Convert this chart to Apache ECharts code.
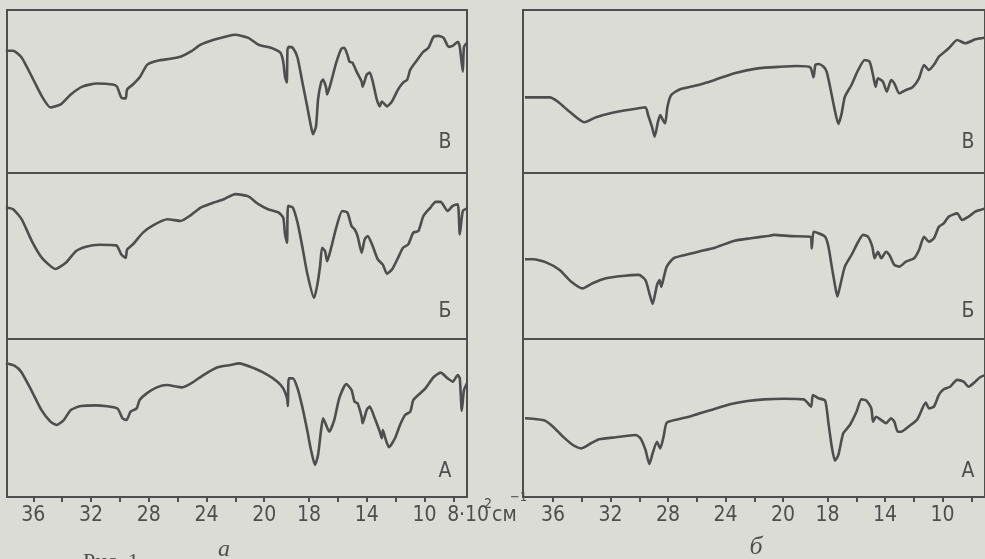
<!DOCTYPE html>
<html>
<head>
<meta charset="utf-8">
<title>ИК-спектры</title>
<script src="https://cdn.jsdelivr.net/npm/echarts@6/dist/echarts.min.js"></script>
<style>
html,body{margin:0;padding:0;background:#dcdcd6;}
#main{width:985px;height:559px;}
</style>
</head>
<body>
<div id="main"></div>
<script type="text/javascript">
// волновое число (10^2 см-1), пропускание (% высоты панели)
var specA_V = [[37.9,75],[37.4,75],[36.8,70.7],[36.1,59.1],[35.4,47],[34.8,40.2],[34.1,42.1],[33.4,48.2],[32.6,53],[31.6,54.9],[30.5,54.3],[30.2,53],[29.9,46.3],[29.6,45.7],[29.5,51.2],[29.1,54.3],[28.6,59.1],[28.1,66.5],[27.4,68.9],[26.5,70.1],[25.8,71.3],[25.1,74.4],[24.4,78.7],[23.5,81.7],[22.5,84.1],[22.0,84.8],[21.1,82.9],[20.4,78.7],[19.7,76.8],[19.28,73.8],[19.15,68.3],[19.07,59.1],[18.99,55.5],[18.96,75.6],[18.9,77.4],[18.72,76.8],[18.51,70.7],[18.3,56.1],[18.08,40.9],[17.86,28.7],[17.72,23.8],[17.51,28.7],[17.37,45.1],[17.16,55.5],[17.02,57.3],[16.81,52.4],[16.74,48.2],[16.46,56.1],[16.11,67.7],[15.76,76.2],[15.55,76.8],[15.34,72.6],[15.19,68.3],[14.98,67.7],[14.7,62.2],[14.35,56.1],[14.28,53],[14.0,60.4],[13.79,61.6],[13.58,56.1],[13.3,45.1],[13.09,40.9],[12.95,43.9],[12.6,40.9],[12.25,43.9],[11.83,51.2],[11.48,55.5],[11.19,57.3],[10.98,63.4],[10.49,69.5],[10.07,74.4],[9.72,76.8],[9.37,83.5],[9.02,84.1],[8.67,82.9],[8.32,77.4],[8.04,78],[7.69,80.5],[7.55,77.4],[7.34,62.2],[7.26,77.4],[7.05,79.9]];
var specA_B = [[37.9,79.2],[37.4,78.2],[36.8,72.1],[36.1,59],[35.4,48.9],[34.46,42.2],[33.75,45.9],[33.05,52.9],[32.35,55.6],[31.44,56.8],[30.25,56.4],[29.9,50.9],[29.6,48.9],[29.5,53.9],[29.1,57],[28.4,64.1],[27.7,68.5],[26.7,72.1],[25.8,71.1],[25.1,74.5],[24.4,79.2],[23.5,82.2],[22.8,84.2],[22.0,87.3],[21.1,85.9],[20.4,81.2],[19.83,78.2],[19.36,76.2],[19.15,73.1],[19.07,63],[18.98,58],[18.93,80.2],[18.72,79.2],[18.51,70.1],[18.3,55.9],[18.08,39.8],[17.65,24.7],[17.44,31.7],[17.23,43.8],[17.09,55],[16.88,52.9],[16.74,46.8],[16.46,55],[16.11,67.1],[15.69,77.1],[15.34,76.2],[15.05,68.1],[14.84,66.1],[14.63,62],[14.35,51.9],[14.14,60],[13.93,62],[13.58,55.9],[13.23,47.9],[12.88,44.8],[12.6,39.4],[12.25,41.8],[11.83,48.9],[11.48,55],[11.12,57],[10.77,64.1],[10.42,65],[10.07,74.1],[9.58,79.2],[9.23,82.6],[8.88,82.6],[8.39,77.1],[8.04,80.2],[7.69,81.2],[7.55,63],[7.34,77.1],[7.05,78.6]];
var specA_A = [[37.9,84.6],[37.26,82.9],[36.84,79.3],[36.14,67.7],[35.44,55.1],[34.81,47.7],[34.39,45.6],[33.89,48.7],[33.4,55.1],[32.7,57.6],[31.65,58],[30.18,56.1],[29.82,49.8],[29.54,48.7],[29.26,54],[28.84,56.1],[28.63,61.4],[28.14,65.6],[27.44,69.4],[26.74,70.9],[25.68,69.4],[24.98,72.4],[24.21,77.2],[23.23,82.1],[22.32,83.6],[21.75,84.6],[20.7,81.5],[19.83,77.2],[19.41,73],[19.15,68.8],[18.98,62.5],[18.94,57.6],[18.9,75.1],[18.72,75.1],[18.51,68.8],[18.3,57.2],[18.08,42.4],[17.86,29.8],[17.58,20.3],[17.37,26.6],[17.16,42.4],[17.02,49.8],[16.81,45.6],[16.6,41.3],[16.25,48.7],[15.9,62.5],[15.41,71.5],[15.05,67.7],[14.84,60.3],[14.63,59.3],[14.35,50.8],[14.28,46.7],[14.0,55.1],[13.79,57.2],[13.44,49.8],[13.09,41.3],[12.95,37.2],[12.88,42.4],[12.74,38.2],[12.46,31.5],[12.04,37.2],[11.69,45.6],[11.34,51.9],[10.98,54],[10.77,61.4],[10.42,64.6],[9.93,68.8],[9.37,75.8],[8.88,78.7],[8.39,75.1],[8.04,73],[7.69,77.2],[7.55,75.1],[7.41,54.6],[7.26,67.7],[7.05,72]];
var specB_V = [[37.95,46.4],[36.23,46.4],[35.66,43.7],[34.85,37.6],[33.82,31.1],[33.01,34.2],[31.87,37],[30.49,39.1],[29.57,40.3],[29.39,35.6],[29.12,28.4],[28.93,22.3],[28.7,31.5],[28.54,35.6],[28.36,32.5],[28.2,30.5],[28.04,40.7],[27.78,47.9],[27.16,51.4],[25.9,54],[24.75,57.1],[23.38,61.2],[21.77,64.2],[20.17,65.2],[19.37,65.6],[18.78,64.8],[18.63,58.7],[18.55,66.3],[18.41,66.9],[18.18,65.2],[18.04,62.1],[17.83,52.9],[17.55,40.7],[17.25,30.1],[17.02,36.6],[16.8,46.8],[16.34,54],[15.87,63.2],[15.42,69.3],[15.08,68.3],[14.84,60.1],[14.66,52.9],[14.5,58.1],[14.15,56],[13.88,49.9],[13.58,57.1],[13.36,55],[13.01,48.9],[12.55,50.9],[12.09,52.6],[11.64,58.1],[11.29,66.3],[10.95,63.2],[10.53,67.3],[10.26,71.4],[9.57,76.5],[8.99,81.6],[8.42,79.6],[7.73,82],[7.39,82.6],[7.1,83]];
var specB_B = [[37.95,48],[37.38,48],[36.45,46],[35.54,41.6],[34.73,34.5],[33.94,30.5],[33.25,33.6],[32.32,36.6],[31.18,38],[30.03,38.6],[29.57,35.5],[29.3,27.5],[29.07,21.1],[28.77,32.5],[28.59,35.5],[28.47,31.5],[28.31,36.6],[28.09,43.6],[27.62,48.6],[26.82,50.6],[25.9,52.6],[24.75,55],[23.38,59.2],[22.24,60.7],[21.09,62],[20.62,62.7],[19.66,62],[18.78,61.6],[18.71,54.6],[18.63,64.6],[18.41,63.7],[18.11,61.6],[17.94,55.6],[17.71,43.6],[17.49,32.5],[17.32,25.5],[17.14,31.5],[16.8,43.6],[16.34,50.6],[15.87,58.6],[15.53,62.7],[15.19,61.6],[14.89,55.6],[14.73,48.6],[14.5,52.6],[14.27,48.6],[13.93,52.6],[13.7,50.6],[13.36,44.6],[13.01,43.6],[12.55,46.6],[11.98,48.6],[11.64,53.6],[11.29,61.6],[10.95,58.6],[10.6,60.7],[10.26,67.6],[9.92,69.7],[9.57,73.7],[8.99,75.7],[8.65,71.7],[8.19,73.7],[7.73,76.7],[7.39,77.7],[7.1,78.5]];
var specB_A = [[37.95,49.8],[37.14,49.2],[36.57,48.3],[36.0,44.5],[35.31,38.2],[34.62,32.9],[34.05,30.8],[33.36,34],[32.79,36.5],[31.64,37.8],[30.26,39.2],[29.92,37.2],[29.57,29.8],[29.3,20.9],[29.07,27.7],[28.77,35],[28.54,30.8],[28.31,38.2],[28.09,47],[27.28,49.2],[26.36,51.3],[24.99,55.1],[23.61,58.9],[22.46,60.8],[21.31,61.8],[19.96,62.2],[19.07,61.8],[18.74,57.2],[18.66,64.6],[18.41,62.5],[18.11,61],[17.94,46.7],[17.71,31.8],[17.49,23],[17.25,26.6],[16.91,40.3],[16.45,45.6],[15.99,54],[15.65,61.8],[15.3,61],[14.96,56.1],[14.84,47.7],[14.62,50.8],[14.27,48.7],[13.93,46.7],[13.59,49.8],[13.36,47.7],[13.12,41.3],[12.89,41.3],[12.32,44.9],[11.75,49.2],[11.17,59.7],[10.95,56.1],[10.6,57.2],[10.26,64.6],[9.92,68.2],[9.48,69.8],[8.99,74.1],[8.54,73],[8.19,69.8],[7.73,73],[7.39,75.8],[7.1,77]];

var tickWaves = [36,34,32,30,28,26,24,22,20,18,16,14,12,10,8];
var labelsLeft = [36,32,28,24,20,18,14,10,8];
var labelsRight = [36,32,28,24,20,18,14,10];
var panelNames = ['В','Б','А'];

// шкала прибора: участок 2000-1800 растянут
function toU(w) {
	if (w >= 20) return w;
	if (w >= 18) return 20 - (20 - w) * 1.55;
	return w - 1.1;
}
function fromU(u) {
	if (u >= 20) return u;
	if (u >= 16.9) return 20 - (20 - u) / 1.55;
	return u + 1.1;
}
function conv(arr) {
	return arr.map(function (p) { return [toU(p[0]), p[1]]; });
}

var inkColor = '#4e4e4e';
var narrow = "'Liberation Sans Narrow','DejaVu Sans Condensed',sans-serif";

var rows = [{top:10,height:163},{top:173,height:166},{top:339,height:158}];
var cols = [{left:7,width:460,max:37.82,labels:labelsLeft},{left:523,width:467,max:38.09,labels:labelsRight}];
var specs = [[specA_V,specA_B,specA_A],[specB_V,specB_B,specB_A]];

var grids = [], xAxes = [], yAxes = [], series = [];
cols.forEach(function (c, ci) {
	rows.forEach(function (r, ri) {
		var idx = grids.length;
		var bottom = (ri == 2);
		grids.push({left:c.left, width:c.width, top:r.top, height:r.height, show:true,
			borderColor:inkColor, borderWidth:2, backgroundColor:'transparent'});
		xAxes.push({type:'value', gridIndex:idx, inverse:true, min:5.95, max:c.max,
			show:bottom, splitLine:{show:false},
			axisLine:{show:true, lineStyle:{color:inkColor, width:2}},
			axisTick:{show:true, inside:false, length:5, lineStyle:{color:inkColor, width:2},
				customValues:tickWaves.map(toU)},
			axisLabel:{show:true, margin:8, color:inkColor, fontSize:21, fontFamily:narrow,
				customValues:c.labels.map(toU),
				formatter:function (v) { return String(Math.round(fromU(v))); }}
		});
		yAxes.push({type:'value', gridIndex:idx, min:0, max:100, show:false});
		series.push({type:'line', xAxisIndex:idx, yAxisIndex:idx, data:conv(specs[ci][ri]),
			showSymbol:false, smooth:0.2, silent:true,
			lineStyle:{color:inkColor, width:2.6}});
	});
});

var graphics = [];
var letterX = [445, 968];
var letterY = [143, 312, 472];
letterX.forEach(function (x) {
	letterY.forEach(function (y, i) {
		graphics.push({type:'text', x:x, y:y, style:{text:panelNames[i], fill:inkColor,
			font:'21px ' + narrow, textAlign:'center', textVerticalAlign:'middle'}});
	});
});
// единицы после метки 8
graphics.push({type:'text', x:459, y:516, style:{text:'·10', fill:inkColor, font:'21px ' + narrow, textAlign:'left', textVerticalAlign:'middle'}});
graphics.push({type:'text', x:484, y:504, style:{text:'2', fill:inkColor, font:'14px ' + narrow, textAlign:'left', textVerticalAlign:'middle'}});
graphics.push({type:'text', x:492, y:516, style:{text:'см', fill:inkColor, font:'21px ' + narrow, textAlign:'left', textVerticalAlign:'middle'}});
graphics.push({type:'text', x:510, y:498, style:{text:'−1', fill:inkColor, font:'13px ' + narrow, textAlign:'left', textVerticalAlign:'middle'}});
// подписи
graphics.push({type:'text', x:224, y:550, style:{text:'а', fill:inkColor, font:'italic 24px "Liberation Serif",serif', textAlign:'center', textVerticalAlign:'middle'}});
graphics.push({type:'text', x:756, y:547, style:{text:'б', fill:inkColor, font:'italic 26px "Liberation Serif",serif', textAlign:'center', textVerticalAlign:'middle'}});
graphics.push({type:'text', x:83, y:551, style:{text:'Рис. 1', fill:inkColor, font:'22px "Liberation Serif",serif', textAlign:'left', textVerticalAlign:'top'}});

var myChart = echarts.init(document.getElementById('main'), null, {renderer:'canvas'});
myChart.setOption({
	backgroundColor:'#dcdcd6',
	animation:false,
	grid:grids,
	xAxis:xAxes,
	yAxis:yAxes,
	series:series,
	graphic:graphics
});
</script>
</body>
</html>
